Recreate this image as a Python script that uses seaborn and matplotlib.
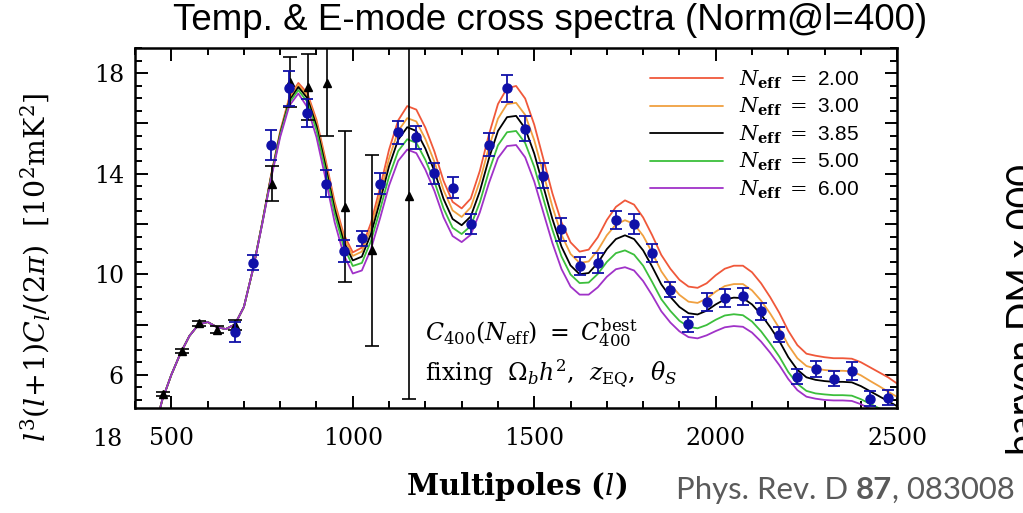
import numpy as np
import pandas as pd
import matplotlib
matplotlib.use("Agg")
import matplotlib.pyplot as plt
from matplotlib.ticker import MultipleLocator, FixedLocator, FixedFormatter
from matplotlib.lines import Line2D
import seaborn as sns

# model curves, every 25 in l
ell = list(range(450, 2501, 25))
n_black = [3.6, 5.0, 6.0, 6.85, 7.55, 8.0, 8.1, 7.9, 7.82, 8.0, 8.7, 10.2,
           12.0, 13.9, 15.6, 16.9, 17.45, 17.0, 15.9, 14.3, 12.6, 11.3, 10.55, 10.7,
           11.6, 12.9, 14.3, 15.35, 15.85, 15.7, 15.0, 14.1, 13.0, 12.2, 11.95, 12.3,
           13.3, 14.6, 15.7, 16.25, 16.3, 15.8, 14.8, 13.5, 12.2, 11.1, 10.35, 10.0,
           10.05, 10.45, 11.0, 11.4, 11.55, 11.4, 10.95, 10.3, 9.6, 9.1, 8.7, 8.45,
           8.4, 8.55, 8.8, 9.0, 9.07, 9.05, 8.8, 8.4, 7.9, 7.35, 6.7, 6.2,
           5.9, 5.8, 5.75, 5.72, 5.72, 5.7, 5.55, 5.35, 5.15, 4.95, 4.75]
n_red = [3.6, 5.0, 6.0, 6.85, 7.55, 8.0, 8.1, 7.9, 7.82, 8.0, 8.7, 10.2,
         12.02, 13.96, 15.69, 17.04, 17.61, 17.2, 16.14, 14.56, 12.88, 11.59, 10.87, 11.06,
         12.04, 13.44, 14.96, 16.12, 16.69, 16.55, 15.83, 14.88, 13.72, 12.88, 12.62, 13.01,
         14.11, 15.55, 16.77, 17.4, 17.49, 16.99, 15.95, 14.59, 13.22, 12.07, 11.27, 10.9,
         10.98, 11.47, 12.16, 12.68, 12.94, 12.77, 12.26, 11.55, 10.77, 10.22, 9.78, 9.51,
         9.46, 9.64, 9.96, 10.22, 10.34, 10.34, 10.08, 9.64, 9.09, 8.47, 7.75, 7.18,
         6.84, 6.76, 6.7, 6.66, 6.66, 6.64, 6.5, 6.3, 6.1, 5.9, 5.65]
n_orange = [3.6, 5.0, 6.0, 6.85, 7.55, 8.0, 8.1, 7.9, 7.82, 8.0, 8.7, 10.2,
            12.01, 13.93, 15.65, 16.97, 17.54, 17.1, 16.03, 14.44, 12.75, 11.46, 10.73, 10.9,
            11.83, 13.17, 14.61, 15.7, 16.21, 16.08, 15.38, 14.47, 13.35, 12.54, 12.28, 12.66,
            13.7, 15.05, 16.19, 16.77, 16.82, 16.34, 15.33, 14.01, 12.69, 11.57, 10.81, 10.45,
            10.51, 10.95, 11.55, 11.98, 12.15, 12.0, 11.53, 10.86, 10.12, 9.6, 9.18, 8.91,
            8.86, 9.03, 9.31, 9.53, 9.61, 9.61, 9.36, 8.95, 8.44, 7.86, 7.18, 6.66,
            6.35, 6.25, 6.19, 6.16, 6.16, 6.14, 5.98, 5.76, 5.55, 5.33, 5.12]
n_green = [3.6, 5.0, 6.0, 6.85, 7.55, 8.0, 8.1, 7.9, 7.82, 8.0, 8.7, 10.2,
           11.99, 13.87, 15.54, 16.82, 17.33, 16.85, 15.73, 14.1, 12.4, 11.09, 10.33, 10.45,
           11.32, 12.56, 13.9, 14.9, 15.37, 15.23, 14.55, 13.68, 12.62, 11.85, 11.6, 11.92,
           12.86, 14.09, 15.13, 15.65, 15.7, 15.22, 14.27, 13.01, 11.77, 10.71, 9.99, 9.65,
           9.67, 10.01, 10.49, 10.84, 10.95, 10.78, 10.34, 9.69, 9.01, 8.54, 8.15, 7.91,
           7.85, 7.98, 8.19, 8.36, 8.41, 8.37, 8.12, 7.73, 7.25, 6.73, 6.11, 5.64,
           5.36, 5.26, 5.22, 5.19, 5.19, 5.17, 5.03, 4.85, 4.67, 4.49, 4.31]
n_purple = [3.6, 5.0, 6.0, 6.85, 7.55, 8.0, 8.1, 7.9, 7.82, 8.0, 8.7, 10.2,
            11.96, 13.82, 15.46, 16.7, 17.19, 16.64, 15.45, 13.8, 12.07, 10.78, 10.03, 10.15,
            11.0, 12.22, 13.53, 14.51, 14.96, 14.82, 14.16, 13.31, 12.27, 11.52, 11.28, 11.57,
            12.46, 13.62, 14.62, 15.1, 15.14, 14.65, 13.69, 12.46, 11.24, 10.21, 9.51, 9.19,
            9.19, 9.48, 9.9, 10.2, 10.28, 10.15, 9.73, 9.16, 8.53, 8.08, 7.73, 7.5,
            7.45, 7.57, 7.74, 7.89, 7.94, 7.91, 7.68, 7.32, 6.88, 6.39, 5.83, 5.39,
            5.13, 5.05, 5.0, 4.98, 4.98, 4.96, 4.83, 4.65, 4.48, 4.31, 4.13]

neff_labels = ["2.00", "3.00", "3.85", "5.00", "6.00"]
curve_colors = ["#f0583a", "#f0a040", "#000000", "#3cbf3c", "#a032c8"]

# blue data points
blue_l = [675, 725, 775, 825, 875, 925, 975, 1025, 1075, 1125, 1175, 1225,
          1275, 1325, 1375, 1425, 1475, 1525, 1575, 1625, 1675, 1725, 1775, 1825,
          1875, 1925, 1975, 2025, 2075, 2125, 2175, 2225, 2275, 2325, 2375, 2425, 2475]
blue_v = [7.72, 10.45, 15.15, 17.39, 16.41, 13.61, 10.92, 11.43, 13.61, 15.65, 15.45, 14.01,
          13.45, 12.01, 15.15, 17.39, 15.79, 13.92, 11.79, 10.32, 10.45, 12.15, 11.99, 10.85,
          9.39, 8.01, 8.89, 9.05, 9.12, 8.52, 7.59, 5.92, 6.23, 5.85, 6.16, 5.05, 5.08]
blue_e = [0.4, 0.3, 0.6, 0.7, 0.55, 0.55, 0.45, 0.3, 0.4, 0.45, 0.45, 0.4,
          0.4, 0.4, 0.45, 0.55, 0.5, 0.5, 0.45, 0.35, 0.4, 0.35, 0.4, 0.35,
          0.3, 0.3, 0.35, 0.35, 0.35, 0.35, 0.3, 0.3, 0.3, 0.3, 0.35, 0.3, 0.3]

# black triangles
tri_l = [478, 529, 577, 625, 676, 777, 826, 876, 929, 978, 1053, 1154]
tri_v = [5.25, 6.96, 8.05, 7.8, 8.0, 13.61, 17.65, 17.45, 17.59, 12.68, 10.95, 13.12]
tri_e = [0.08, 0.08, 0.1, 0.15, 0.2, 0.7, 1.0, 1.3, 2.1, 3.0, 3.8, 8.1]

sns.set_theme(style="ticks")
plt.rcParams["font.family"] = ["DejaVu Serif"]
plt.rcParams["mathtext.fontset"] = "dejavuserif"
plt.rcParams["text.color"] = "black"
plt.rcParams["axes.labelcolor"] = "black"

curves = pd.DataFrame({
    "l": ell * 5,
    "value": n_red + n_orange + n_black + n_green + n_purple,
    "model": sum([[lab] * len(ell) for lab in neff_labels], []),
})

fig = plt.figure(figsize=(10.23, 5.13), dpi=100)
ax = fig.add_axes([0.132, 0.2047, 0.745, 0.7017])

sns.lineplot(data=curves, x="l", y="value", hue="model", hue_order=neff_labels,
             palette=curve_colors, linewidth=1.3, sort=False, legend=False, ax=ax)

ax.errorbar(tri_l, tri_v, yerr=tri_e, fmt="^", color="black", ms=6,
            elinewidth=1.2, capsize=5, capthick=1.2, zorder=4)
ax.errorbar(blue_l, blue_v, yerr=blue_e, fmt="o", color="#1010a8", ms=6.5,
            elinewidth=1.3, capsize=4.5, capthick=1.3, zorder=5)

ax.set_xlim(400, 2500)
ax.set_ylim(4.68, 19.0)
ax.set_xticks([500, 1000, 1500, 2000, 2500])
ax.xaxis.set_minor_locator(MultipleLocator(100))
ax.yaxis.set_major_locator(FixedLocator([6, 8, 10, 12, 14, 16, 18]))
ax.yaxis.set_major_formatter(FixedFormatter(["6", "", "10", "", "14", "", "18"]))
ax.yaxis.set_minor_locator(MultipleLocator(0.5))
ax.tick_params(which="both", direction="in", top=True, right=True, width=1.4, colors="black")
ax.tick_params(which="major", length=9)
ax.tick_params(which="minor", length=5)
ax.tick_params(axis="x", which="major", labelsize=17, pad=14)
ax.tick_params(axis="y", which="major", labelsize=17, pad=8)
for sp in ax.spines.values():
    sp.set_linewidth(1.8)
    sp.set_color("black")
    sp.set_visible(True)

ax.set_xlabel(r"Multipoles ($\mathit{l}$)", fontsize=21, fontweight="bold", labelpad=14)
ax.set_ylabel(r"$l^3(l\!+\!1)C_l/(2\pi)$  [10$^2$mK$^2$]", fontsize=20.5)
ax.yaxis.set_label_coords(-0.109, 0.39)

handles = [Line2D([], [], color=c, lw=1.3) for c in curve_colors]
labels = [r"$N_{\mathbf{eff}}$ $=$ " + s for s in neff_labels]
ax.legend(handles, labels, loc="upper right", bbox_to_anchor=(0.975, 0.995), frameon=False,
          prop={"family": "Liberation Sans", "size": 15}, handlelength=3.5,
          labelspacing=0.25, handletextpad=0.8)

ax.text(0.38, 0.21, r"$C_{400}(N_{\rm eff})\ =\ C_{400}^{\rm best}$", transform=ax.transAxes,
        fontsize=17, va="center")
ax.text(0.38, 0.095, r"fixing  $\Omega_b h^2$,  $z_{\rm EQ}$,  $\theta_S$", transform=ax.transAxes,
        fontsize=17, va="center")

fig.text(107 / 1023, 1 - 440 / 513, "18", fontsize=17, ha="center", va="center")

fig.text(0.538, 0.96, "Temp. & E-mode cross spectra (Norm@l=400)", family="Liberation Sans",
         fontsize=26.5, ha="center", va="center")

t1 = fig.text(676 / 1023, 1 - 499 / 513, "Phys. Rev. D ", family="Lato", fontsize=22.4,
              color="#5a5a5a", va="baseline")
t2 = ax.annotate("87", xy=(1, 0), xycoords=t1, va="bottom", family="Lato", fontsize=22.4,
                 fontweight="bold", color="#5a5a5a", annotation_clip=False)
ax.annotate(", 083008", xy=(1, 0), xycoords=t2, va="bottom", family="Lato", fontsize=22.4,
            color="#5a5a5a", annotation_clip=False)

fig.text(1006 / 1023, 1 - 455 / 513, "baryon DM x 000", family="Lato", fontsize=27,
         rotation=90, ha="left", va="bottom")

fig.savefig("out.png", dpi=100)
